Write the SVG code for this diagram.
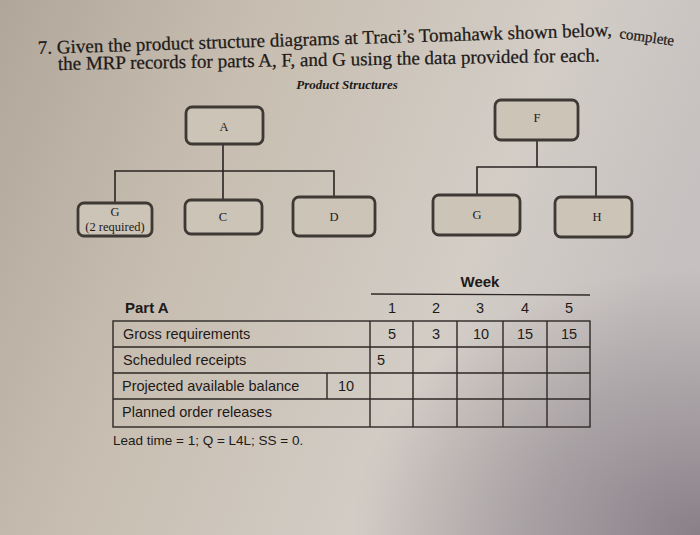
<svg xmlns="http://www.w3.org/2000/svg" width="700" height="535" viewBox="0 0 700 535">
<defs>
<linearGradient id="paper" x1="0" y1="0" x2="1" y2="0.3">
<stop offset="0" stop-color="#b0a699"/>
<stop offset="0.35" stop-color="#c7bdb0"/>
<stop offset="0.75" stop-color="#d3cdc6"/>
<stop offset="1" stop-color="#c6c1c0"/>
</linearGradient>
<radialGradient id="shade" cx="1" cy="1" r="0.5">
<stop offset="0" stop-color="#7a707a" stop-opacity="0.8"/>
<stop offset="1" stop-color="#7a707a" stop-opacity="0"/>
</radialGradient>
<style>
.title{font-family:"Liberation Serif","Times New Roman",serif;font-size:19px;fill:#1e1a18;stroke:#1e1a18;stroke-width:0.25}
.ps{font-family:"Liberation Serif",serif;font-size:13px;font-style:italic;font-weight:bold;fill:#1e1a18}
.box{fill:#cdc4b8;stroke:#3e3935;stroke-width:2.8}
.lbl{font-family:"Liberation Serif",serif;font-size:12.5px;fill:#1e1a18;text-anchor:middle}
.edge{stroke:#2a2522;stroke-width:1.6;fill:none}
.t{font-family:"Liberation Sans",Arial,sans-serif;font-size:14.5px;fill:#1e1a18}
.tc{font-family:"Liberation Sans",Arial,sans-serif;font-size:14.5px;fill:#1e1a18;text-anchor:middle}
.tb{font-family:"Liberation Sans",Arial,sans-serif;font-size:15px;font-weight:bold;fill:#1e1a18}
.grid{stroke:#2e2926;stroke-width:1.4;fill:none}
</style>
</defs>
<rect width="700" height="535" fill="url(#paper)"/>
<rect width="700" height="535" fill="url(#shade)"/>

<g id="title">
<text class="title" x="38" y="54" transform="rotate(-1.8 38 54)">7. Given the product structure diagrams at Traci’s Tomahawk shown below,</text>
<text class="title" x="619" y="38" transform="rotate(8 619 38)" style="font-size:15px">complete</text>
<text class="title" x="58" y="70" transform="rotate(-0.9 58 70)">the MRP records for parts A, F, and G using the data provided for each.</text>
<text class="ps" x="347" y="89" text-anchor="middle">Product Structures</text>
</g>

<g id="connectors">
<path class="edge" d="M223 145 V171 M115 203 V171 H334 V196 M223 171 V200"/>
<path class="edge" d="M537 140 V167 M477 195 V167 H596 V197"/>
</g>

<g id="node-A"><rect class="box" x="186" y="107" width="77" height="37" rx="6"/><text class="lbl" x="224" y="131">A</text></g>
<g id="node-G1"><rect class="box" x="78" y="203" width="74" height="33" rx="6"/><text class="lbl" x="115" y="216">G</text><text class="lbl" x="115" y="231">(2 required)</text></g>
<g id="node-C"><rect class="box" x="185" y="200" width="77" height="34" rx="6"/><text class="lbl" x="223" y="221">C</text></g>
<g id="node-D"><rect class="box" x="293" y="197" width="82" height="39" rx="6"/><text class="lbl" x="334" y="221">D</text></g>
<g id="node-F"><rect class="box" x="495" y="100" width="83" height="40" rx="6"/><text class="lbl" x="537" y="122">F</text></g>
<g id="node-G2"><rect class="box" x="433" y="195" width="87" height="40" rx="6"/><text class="lbl" x="477" y="219">G</text></g>
<g id="node-H"><rect class="box" x="555" y="197" width="77" height="40" rx="6"/><text class="lbl" x="597" y="221">H</text></g>

<g id="mrp-table">
<text class="tb" x="480" y="287" text-anchor="middle">Week</text>
<line class="grid" x1="371" y1="294" x2="590" y2="295"/>
<text class="tb" x="125" y="313">Part A</text>
<text class="tc" x="392" y="313">1</text>
<text class="tc" x="436" y="313">2</text>
<text class="tc" x="480" y="313">3</text>
<text class="tc" x="525" y="313">4</text>
<text class="tc" x="569" y="313">5</text>
<rect class="grid" x="113" y="321" width="477" height="106"/>
<path class="grid" d="M113 347 H590 M113 373 H590 M113 399 H590 M370 321 V427 M413 321 V427 M457 321 V427 M503 321 V427 M547 321 V427 M327 373 V399"/>
<text class="t" x="123" y="339">Gross requirements</text>
<text class="t" x="123" y="365">Scheduled receipts</text>
<text class="t" x="122" y="391">Projected available balance</text>
<text class="t" x="122" y="417">Planned order releases</text>
<text class="tc" x="346" y="391">10</text>
<text class="tc" x="392" y="339">5</text>
<text class="tc" x="436" y="339">3</text>
<text class="tc" x="481" y="339">10</text>
<text class="tc" x="525" y="339">15</text>
<text class="tc" x="569" y="339">15</text>
<text class="t" x="377" y="365">5</text>
<text class="t" x="113" y="445" style="font-size:13.5px">Lead time = 1; Q = L4L; SS = 0.</text>
</g>
</svg>
